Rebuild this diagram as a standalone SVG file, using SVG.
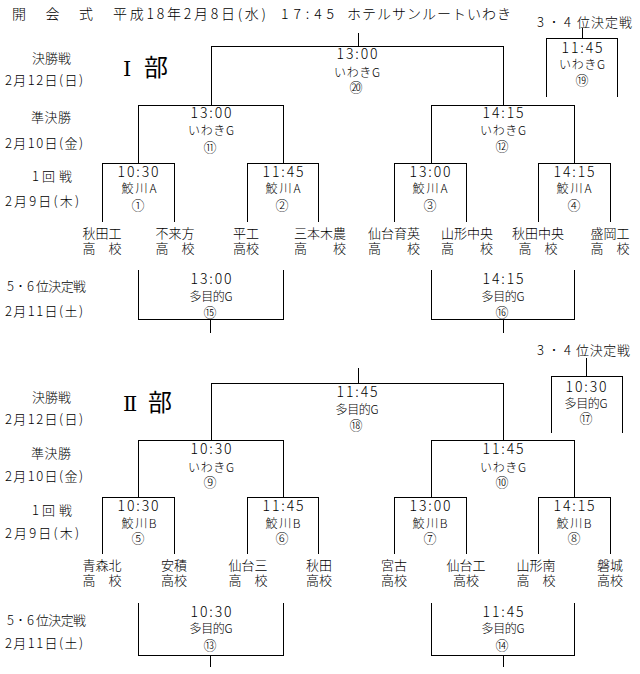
<svg xmlns="http://www.w3.org/2000/svg" width="640" height="674" viewBox="0 0 640 674">
<style>
  text { font-family: "Noto Sans CJK JP", "Noto Sans CJK SC", sans-serif; font-weight: 300; fill: #000; }
  .hdr { font-size: 14px; }
  .lbl { font-size: 13px; }
  .c { text-anchor: middle; }
  .box { text-anchor: middle; }
  .time { font-size: 14px; }
  .ven { font-size: 12px; }
  .num { font-size: 13px; }
  .team { font-size: 13px; text-anchor: middle; }
  .bu { font-size: 24px; font-weight: 400; }
  .roman { font-family: "DejaVu Serif", "Liberation Serif", "Noto Sans CJK JP", serif; font-size: 21px; font-weight: 400; }
  .ln { fill: none; stroke: #000; stroke-width: 1; }
</style>
<rect width="640" height="674" fill="#fff"/>

<g id="header">
  <text class="hdr" x="12" y="19" textLength="81" lengthAdjust="spacing">開　会　式</text>
  <text class="hdr" x="113" y="19" textLength="153" lengthAdjust="spacing">平成18年2月8日(水)</text>
  <text class="hdr" x="281" y="19" textLength="53" lengthAdjust="spacing">17:45</text>
  <text class="hdr" x="347" y="19" textLength="164" lengthAdjust="spacing">ホテルサンルートいわき</text>
</g>

<g id="labels-1">
  <text class="lbl" x="32" y="63" textLength="39" lengthAdjust="spacing">決勝戦</text>
  <text class="lbl" x="5" y="85" textLength="78" lengthAdjust="spacing">2月12日(日)</text>
  <text class="lbl" x="31" y="122" textLength="40" lengthAdjust="spacing">準決勝</text>
  <text class="lbl" x="5" y="148" textLength="78" lengthAdjust="spacing">2月10日(金)</text>
  <text class="lbl" x="32" y="181">1<tspan x="42" textLength="30" lengthAdjust="spacing">回戦</tspan></text>
  <text class="lbl" x="5" y="206" textLength="74" lengthAdjust="spacing">2月9日(木)</text>
  <text class="lbl" x="7" y="291"><tspan textLength="27" lengthAdjust="spacing">5･6</tspan><tspan x="36" textLength="50" lengthAdjust="spacing">位決定戦</tspan></text>
  <text class="lbl" x="5" y="316" textLength="78" lengthAdjust="spacing">2月11日(土)</text>
  <text x="123" y="76"><tspan class="roman">Ⅰ</tspan><tspan class="bu" x="144">部</tspan></text>
  <text class="lbl" x="537" y="27"><tspan textLength="34" lengthAdjust="spacing">3･4</tspan><tspan x="577" textLength="55" lengthAdjust="spacing">位決定戦</tspan></text>
</g>

<g id="labels-2">
  <text class="lbl" x="32" y="402" textLength="39" lengthAdjust="spacing">決勝戦</text>
  <text class="lbl" x="5" y="424" textLength="78" lengthAdjust="spacing">2月12日(日)</text>
  <text class="lbl" x="31" y="458" textLength="40" lengthAdjust="spacing">準決勝</text>
  <text class="lbl" x="5" y="481" textLength="78" lengthAdjust="spacing">2月10日(金)</text>
  <text class="lbl" x="32" y="515">1<tspan x="42" textLength="30" lengthAdjust="spacing">回戦</tspan></text>
  <text class="lbl" x="5" y="538" textLength="74" lengthAdjust="spacing">2月9日(木)</text>
  <text class="lbl" x="7" y="625"><tspan textLength="27" lengthAdjust="spacing">5･6</tspan><tspan x="36" textLength="50" lengthAdjust="spacing">位決定戦</tspan></text>
  <text class="lbl" x="5" y="648" textLength="78" lengthAdjust="spacing">2月11日(土)</text>
  <text x="123" y="411"><tspan class="roman">Ⅱ</tspan><tspan class="bu" x="148">部</tspan></text>
  <text class="lbl" x="537" y="355"><tspan textLength="34" lengthAdjust="spacing">3･4</tspan><tspan x="576" textLength="54" lengthAdjust="spacing">位決定戦</tspan></text>
</g>

<g id="connectors" class="ln" shape-rendering="crispEdges">
  <!-- Part I -->
  <path d="M358.5,33 V46.5 M211.5,105 V46.5 H503.5 V105"/>
  <path d="M138.5,163 V105.5 H283.5 V163"/>
  <path d="M431.5,163 V105.5 H574.5 V163"/>
  <path d="M102.5,222 V163.5 H174.5 V222"/>
  <path d="M247.5,222 V163.5 H318.5 V222"/>
  <path d="M394.5,222 V163.5 H466.5 V222"/>
  <path d="M538.5,222 V163.5 H610.5 V222"/>
  <path d="M582.5,28 V38.5 M546.5,97 V38.5 H617.5 V97"/>
  <path d="M138.5,270 V319.5 H283.5 V270 M210.5,319.5 V333"/>
  <path d="M431.5,270 V319.5 H574.5 V270 M503.5,319.5 V333"/>
  <!-- Part II -->
  <path d="M358.5,368 V383.5 M211.5,440 V383.5 H503.5 V440"/>
  <path d="M138.5,497 V440.5 H283.5 V497"/>
  <path d="M431.5,497 V440.5 H574.5 V497"/>
  <path d="M102.5,554 V497.5 H174.5 V554"/>
  <path d="M247.5,554 V497.5 H318.5 V554"/>
  <path d="M394.5,554 V497.5 H466.5 V554"/>
  <path d="M538.5,554 V497.5 H610.5 V554"/>
  <path d="M586.5,358 V376.5 M551.5,433 V376.5 H622.5 V433"/>
  <path d="M138.5,603 V655.5 H283.5 V603 M210.5,655.5 V667"/>
  <path d="M431.5,603 V655.5 H574.5 V603 M503.5,655.5 V667"/>
</g>

<!-- Part I matches -->
<g id="m20"><text class="box"><tspan class="time" x="357" y="59" textLength="41" lengthAdjust="spacing">13:00</tspan><tspan class="ven" x="357" y="77" textLength="46" lengthAdjust="spacing">いわきG</tspan><tspan class="num" x="356" y="92">⑳</tspan></text></g>
<g id="m19"><text class="box"><tspan class="time" x="582" y="53" textLength="41" lengthAdjust="spacing">11:45</tspan><tspan class="ven" x="582" y="69" textLength="46" lengthAdjust="spacing">いわきG</tspan><tspan class="num" x="582" y="85">⑲</tspan></text></g>
<g id="m11"><text class="box"><tspan class="time" x="211" y="118" textLength="41" lengthAdjust="spacing">13:00</tspan><tspan class="ven" x="211" y="135" textLength="46" lengthAdjust="spacing">いわきG</tspan><tspan class="num" x="210" y="152">⑪</tspan></text></g>
<g id="m12"><text class="box"><tspan class="time" x="503" y="118" textLength="41" lengthAdjust="spacing">14:15</tspan><tspan class="ven" x="503" y="135" textLength="46" lengthAdjust="spacing">いわきG</tspan><tspan class="num" x="502" y="151">⑫</tspan></text></g>
<g id="m1"><text class="box"><tspan class="time" x="138" y="177" textLength="41" lengthAdjust="spacing">10:30</tspan><tspan class="ven" x="139" y="193" textLength="35" lengthAdjust="spacing">鮫川A</tspan><tspan class="num" x="138" y="210">①</tspan></text></g>
<g id="m2"><text class="box"><tspan class="time" x="283" y="177" textLength="41" lengthAdjust="spacing">11:45</tspan><tspan class="ven" x="283" y="193" textLength="35" lengthAdjust="spacing">鮫川A</tspan><tspan class="num" x="282" y="210">②</tspan></text></g>
<g id="m3"><text class="box"><tspan class="time" x="430" y="177" textLength="41" lengthAdjust="spacing">13:00</tspan><tspan class="ven" x="430" y="193" textLength="35" lengthAdjust="spacing">鮫川A</tspan><tspan class="num" x="430" y="210">③</tspan></text></g>
<g id="m4"><text class="box"><tspan class="time" x="574" y="177" textLength="41" lengthAdjust="spacing">14:15</tspan><tspan class="ven" x="574" y="193" textLength="35" lengthAdjust="spacing">鮫川A</tspan><tspan class="num" x="574" y="210">④</tspan></text></g>
<g id="m15"><text class="box"><tspan class="time" x="211" y="284" textLength="41" lengthAdjust="spacing">13:00</tspan><tspan class="ven" x="211" y="301" textLength="43" lengthAdjust="spacing">多目的G</tspan><tspan class="num" x="210" y="317">⑮</tspan></text></g>
<g id="m16"><text class="box"><tspan class="time" x="503" y="284" textLength="41" lengthAdjust="spacing">14:15</tspan><tspan class="ven" x="503" y="301" textLength="43" lengthAdjust="spacing">多目的G</tspan><tspan class="num" x="502" y="317">⑯</tspan></text></g>

<!-- Part I teams -->
<g id="t1"><text class="team"><tspan x="102" y="238">秋田工</tspan><tspan x="102" y="253">高　校</tspan></text></g>
<g id="t2"><text class="team"><tspan x="175" y="238">不来方</tspan><tspan x="175" y="253">高　校</tspan></text></g>
<g id="t3"><text class="team"><tspan x="246" y="238">平工</tspan><tspan x="246" y="253">高校</tspan></text></g>
<g id="t4"><text class="team"><tspan x="320" y="238">三本木農</tspan><tspan x="320" y="253">高　　校</tspan></text></g>
<g id="t5"><text class="team"><tspan x="394" y="238">仙台育英</tspan><tspan x="394" y="253">高　　校</tspan></text></g>
<g id="t6"><text class="team"><tspan x="467" y="238">山形中央</tspan><tspan x="467" y="253">高　　校</tspan></text></g>
<g id="t7"><text class="team"><tspan x="538" y="238">秋田中央</tspan><tspan x="538" y="253">高　校</tspan></text></g>
<g id="t8"><text class="team"><tspan x="610" y="238">盛岡工</tspan><tspan x="610" y="253">高　校</tspan></text></g>

<!-- Part II matches -->
<g id="m18"><text class="box"><tspan class="time" x="357" y="397" textLength="41" lengthAdjust="spacing">11:45</tspan><tspan class="ven" x="357" y="414" textLength="43" lengthAdjust="spacing">多目的G</tspan><tspan class="num" x="356" y="430">⑱</tspan></text></g>
<g id="m17"><text class="box"><tspan class="time" x="586" y="392" textLength="41" lengthAdjust="spacing">10:30</tspan><tspan class="ven" x="586" y="408" textLength="43" lengthAdjust="spacing">多目的G</tspan><tspan class="num" x="586" y="423">⑰</tspan></text></g>
<g id="m9"><text class="box"><tspan class="time" x="211" y="454" textLength="41" lengthAdjust="spacing">10:30</tspan><tspan class="ven" x="211" y="472" textLength="46" lengthAdjust="spacing">いわきG</tspan><tspan class="num" x="210" y="487">⑨</tspan></text></g>
<g id="m10"><text class="box"><tspan class="time" x="503" y="454" textLength="41" lengthAdjust="spacing">11:45</tspan><tspan class="ven" x="503" y="472" textLength="46" lengthAdjust="spacing">いわきG</tspan><tspan class="num" x="502" y="487">⑩</tspan></text></g>
<g id="m5"><text class="box"><tspan class="time" x="138" y="511" textLength="41" lengthAdjust="spacing">10:30</tspan><tspan class="ven" x="139" y="528" textLength="35" lengthAdjust="spacing">鮫川B</tspan><tspan class="num" x="138" y="543">⑤</tspan></text></g>
<g id="m6"><text class="box"><tspan class="time" x="283" y="511" textLength="41" lengthAdjust="spacing">11:45</tspan><tspan class="ven" x="283" y="528" textLength="35" lengthAdjust="spacing">鮫川B</tspan><tspan class="num" x="282" y="543">⑥</tspan></text></g>
<g id="m7"><text class="box"><tspan class="time" x="430" y="511" textLength="41" lengthAdjust="spacing">13:00</tspan><tspan class="ven" x="430" y="528" textLength="35" lengthAdjust="spacing">鮫川B</tspan><tspan class="num" x="430" y="543">⑦</tspan></text></g>
<g id="m8"><text class="box"><tspan class="time" x="574" y="511" textLength="41" lengthAdjust="spacing">14:15</tspan><tspan class="ven" x="574" y="528" textLength="35" lengthAdjust="spacing">鮫川B</tspan><tspan class="num" x="574" y="543">⑧</tspan></text></g>
<g id="m13"><text class="box"><tspan class="time" x="211" y="617" textLength="41" lengthAdjust="spacing">10:30</tspan><tspan class="ven" x="211" y="633" textLength="43" lengthAdjust="spacing">多目的G</tspan><tspan class="num" x="210" y="650">⑬</tspan></text></g>
<g id="m14"><text class="box"><tspan class="time" x="503" y="617" textLength="41" lengthAdjust="spacing">11:45</tspan><tspan class="ven" x="503" y="633" textLength="43" lengthAdjust="spacing">多目的G</tspan><tspan class="num" x="502" y="650">⑭</tspan></text></g>

<!-- Part II teams -->
<g id="t9"><text class="team"><tspan x="102" y="570">青森北</tspan><tspan x="102" y="585">高　校</tspan></text></g>
<g id="t10"><text class="team"><tspan x="174" y="570">安積</tspan><tspan x="174" y="585">高校</tspan></text></g>
<g id="t11"><text class="team"><tspan x="248" y="570">仙台三</tspan><tspan x="248" y="585">高　校</tspan></text></g>
<g id="t12"><text class="team"><tspan x="319" y="570">秋田</tspan><tspan x="319" y="585">高校</tspan></text></g>
<g id="t13"><text class="team"><tspan x="394" y="570">宮古</tspan><tspan x="394" y="585">高校</tspan></text></g>
<g id="t14"><text class="team"><tspan x="466" y="570">仙台工</tspan><tspan x="466" y="585">高校</tspan></text></g>
<g id="t15"><text class="team"><tspan x="536" y="570">山形南</tspan><tspan x="536" y="585">高　校</tspan></text></g>
<g id="t16"><text class="team"><tspan x="610" y="570">磐城</tspan><tspan x="610" y="585">高校</tspan></text></g>
</svg>
